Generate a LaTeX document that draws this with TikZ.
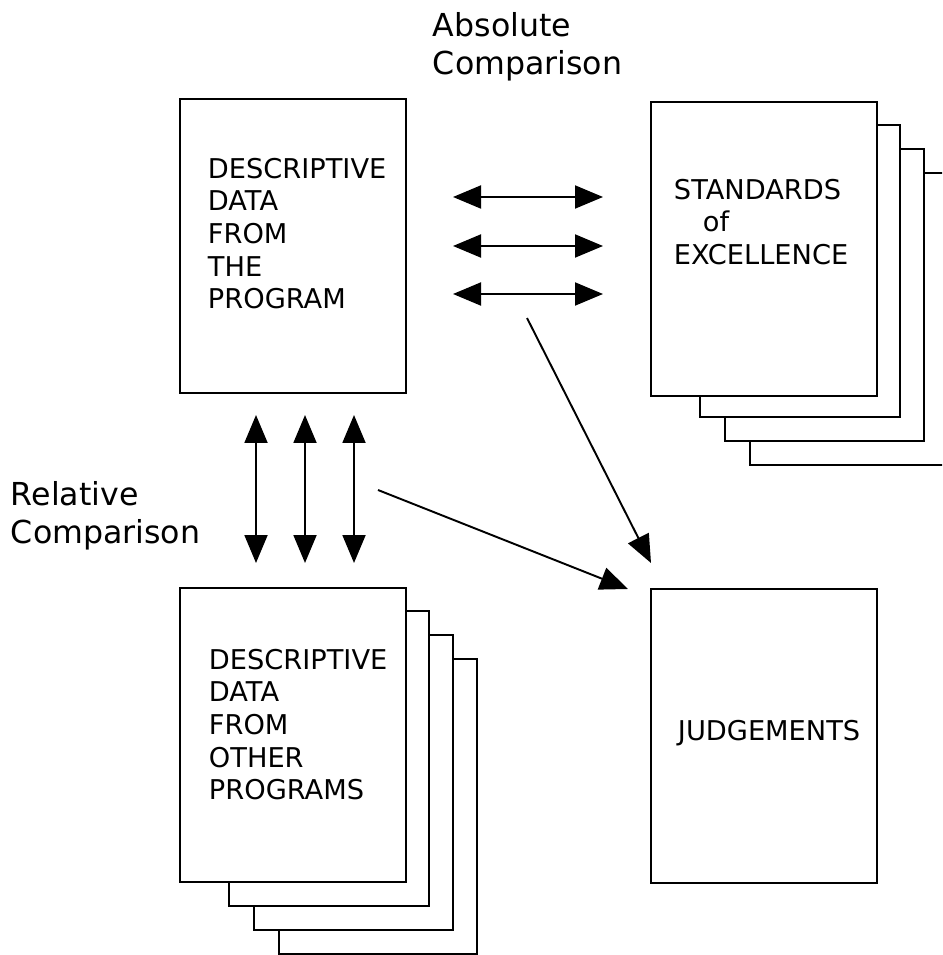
\documentclass[tikz,border=0pt]{standalone}
\usepackage{fontspec}
\setmainfont{DejaVu Sans}
\usetikzlibrary{arrows.meta}

\tikzset{
  sheet/.style={draw, fill=white, anchor=north west, inner sep=0pt,
    minimum width=4.52cm, minimum height=5.88cm},
  boxtext/.style={anchor=north west, align=left, inner sep=0pt,
    font=\fontsize{15.5}{18.6}\selectfont},
  sidetext/.style={anchor=north west, align=left, inner sep=0pt,
    font=\fontsize{18}{21.6}\selectfont},
}

\begin{document}
\begin{tikzpicture}[x=0.02cm, y=-0.02cm, line width=1.1pt,
    >={Triangle[length=0.56cm, width=0.46cm]}]
        \useasboundingbox (0,0) rectangle (942,955);
        \clip (0,0) rectangle (942,955);

        \foreach \i in {3,2,1}{
            \draw[fill=white] ({650+25*(\i+1)},{101+24*\i}) rectangle ({876+24*\i},{393+24*\i});
            \draw[fill=white] ({179+25*(\i+1)},{587+24*\i}) rectangle ({405+24*\i},{882+24*\i});
        }

        \node[sheet] (prog) at (179,98) {};
        \node[sheet] (std) at (650,101) {};
        \node[sheet] (other) at (179,587) {};
        \node[sheet] (judge) at (650,588) {};

        \node[boxtext] (progtxt) at (207,157) {DESCRIPTIVE\\DATA\\FROM\\THE\\PROGRAM};
        \node[boxtext] (stdtxt) at (673,178) {STANDARDS\\\hspace*{0.58cm}of\\EXCELLENCE};
        \node[boxtext] (othertxt) at (208,648) {DESCRIPTIVE\\DATA\\FROM\\OTHER\\PROGRAMS};
        \node[boxtext, anchor=west] (judgetxt) at (677,733) {JUDGEMENTS};

        \node[sidetext] (abs) at (432,12) {Absolute\\Comparison};
        \node[sidetext] (rel) at (10,481) {Relative\\Comparison};

        \foreach \y [count=\k] in {197,246,294}{
            \coordinate (al\k) at (453,\y);
            \coordinate (ar\k) at (603,\y);
            \draw[<->] (al\k) -- (ar\k);
        }
        \foreach \x [count=\k] in {256,305,354}{
            \coordinate (vt\k) at (\x,415);
            \coordinate (vb\k) at (\x,563);
            \draw[<->] (vt\k) -- (vb\k);
        }

        \coordinate (absfrom) at (527,318);
        \coordinate (absto) at (651,563);
        \coordinate (relfrom) at (378,490);
        \coordinate (relto) at (628,589);
        \draw[->] (absfrom) -- (absto);
        \draw[->] (relfrom) -- (relto);
\end{tikzpicture}
\end{document}
